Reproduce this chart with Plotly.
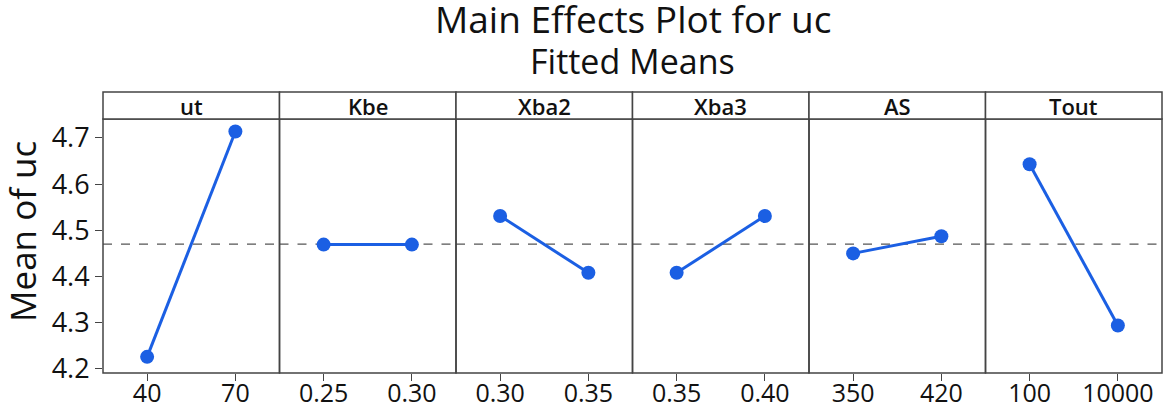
import plotly.graph_objects as go
from plotly.subplots import make_subplots

# factors and their two levels
factors = ["ut", "Kbe", "Xba2", "Xba3", "AS", "Tout"]
levels = [
    ["40", "70"],
    ["0.25", "0.30"],
    ["0.30", "0.35"],
    ["0.35", "0.40"],
    ["350", "420"],
    ["100", "10000"],
]
# fitted means of uc at each level
means = [
    [4.226, 4.714],
    [4.469, 4.469],
    [4.531, 4.408],
    [4.408, 4.531],
    [4.450, 4.487],
    [4.643, 4.294],
]
grand_mean = 4.470
y_ticks = [4.2, 4.3, 4.4, 4.5, 4.6, 4.7]

FONT = "Open Sans"
BLUE = "#1b5fe3"
EDGE = "#444444"
TXT = "#111111"

fig = make_subplots(rows=1, cols=len(factors), shared_yaxes=True, horizontal_spacing=0)

for i, (name, lv, m) in enumerate(zip(factors, levels, means), start=1):
    ax = f"x{i if i > 1 else ''}"
    fig.add_trace(
        go.Scatter(
            x=lv,
            y=m,
            mode="lines+markers",
            line=dict(color=BLUE, width=3),
            marker=dict(color=BLUE, size=14),
            showlegend=False,
        ),
        row=1,
        col=i,
    )
    fig.update_xaxes(
        type="category",
        range=[-0.5, 1.5],
        showgrid=False,
        zeroline=False,
        showline=False,
        automargin=False,
        ticks="outside",
        ticklen=7,
        tickwidth=1.3,
        tickcolor=EDGE,
        ticklabelstandoff=-9,
        tickfont=dict(size=25, color=TXT, family=FONT),
        row=1,
        col=i,
    )
    if i > 1:
        fig.update_yaxes(ticks="", showticklabels=False, row=1, col=i)
    # dashed grand mean line
    fig.add_shape(
        type="line",
        xref=f"{ax} domain",
        yref="y",
        x0=0,
        x1=1,
        y0=grand_mean,
        y1=grand_mean,
        line=dict(color="#555555", width=1.3, dash="dash"),
        layer="below",
    )
    # panel frame
    fig.add_shape(
        type="rect",
        xref=f"{ax} domain",
        yref="y domain",
        x0=0,
        x1=1,
        y0=0,
        y1=1,
        line=dict(color=EDGE, width=1.5),
    )
    # header strip
    fig.add_shape(
        type="rect",
        xref=f"{ax} domain",
        yref="y domain",
        x0=0,
        x1=1,
        y0=1,
        y1=1.106,
        line=dict(color=EDGE, width=1.5),
        fillcolor="white",
    )
    fig.add_annotation(
        text=name,
        xref=f"{ax} domain",
        yref="y domain",
        x=0.5,
        y=1.053,
        showarrow=False,
        font=dict(size=22, color=TXT, family=FONT, weight=600),
        xanchor="center",
        yanchor="middle",
    )

fig.update_yaxes(
    range=[4.191, 4.741],
    tickvals=y_ticks,
    ticktext=[f"{v:.1f}" for v in y_ticks],
    showgrid=False,
    zeroline=False,
    showline=False,
    automargin=False,
)
fig.update_yaxes(
    ticks="outside",
    ticklen=7,
    tickwidth=1.3,
    tickcolor=EDGE,
    tickfont=dict(size=27, color=TXT, family=FONT),
    row=1,
    col=1,
)

# axis title, centred on panels incl. header strip
fig.add_annotation(
    text="Mean of uc",
    xref="paper",
    yref="paper",
    x=0,
    y=0.5,
    xshift=-81,
    yshift=14,
    textangle=-90,
    showarrow=False,
    font=dict(size=35, color=TXT, family=FONT),
    xanchor="center",
    yanchor="middle",
)

fig.add_annotation(
    text="Main Effects Plot for uc",
    xref="paper",
    yref="paper",
    x=0.5,
    y=1.0,
    yshift=101,
    showarrow=False,
    font=dict(size=37, color=TXT, family=FONT),
    xanchor="center",
    yanchor="middle",
)
fig.add_annotation(
    text="Fitted Means",
    xref="paper",
    yref="paper",
    x=0.5,
    y=1.0,
    yshift=58,
    showarrow=False,
    font=dict(size=34, color=TXT, family=FONT),
    xanchor="center",
    yanchor="middle",
)

fig.update_layout(
    width=1167,
    height=404,
    margin=dict(l=103, r=5, t=119, b=31),
    plot_bgcolor="white",
    paper_bgcolor="white",
)

fig.write_html(
    "out.html",
    config={"displayModeBar": False},
    post_script="document.body.style.margin='0';",
)
